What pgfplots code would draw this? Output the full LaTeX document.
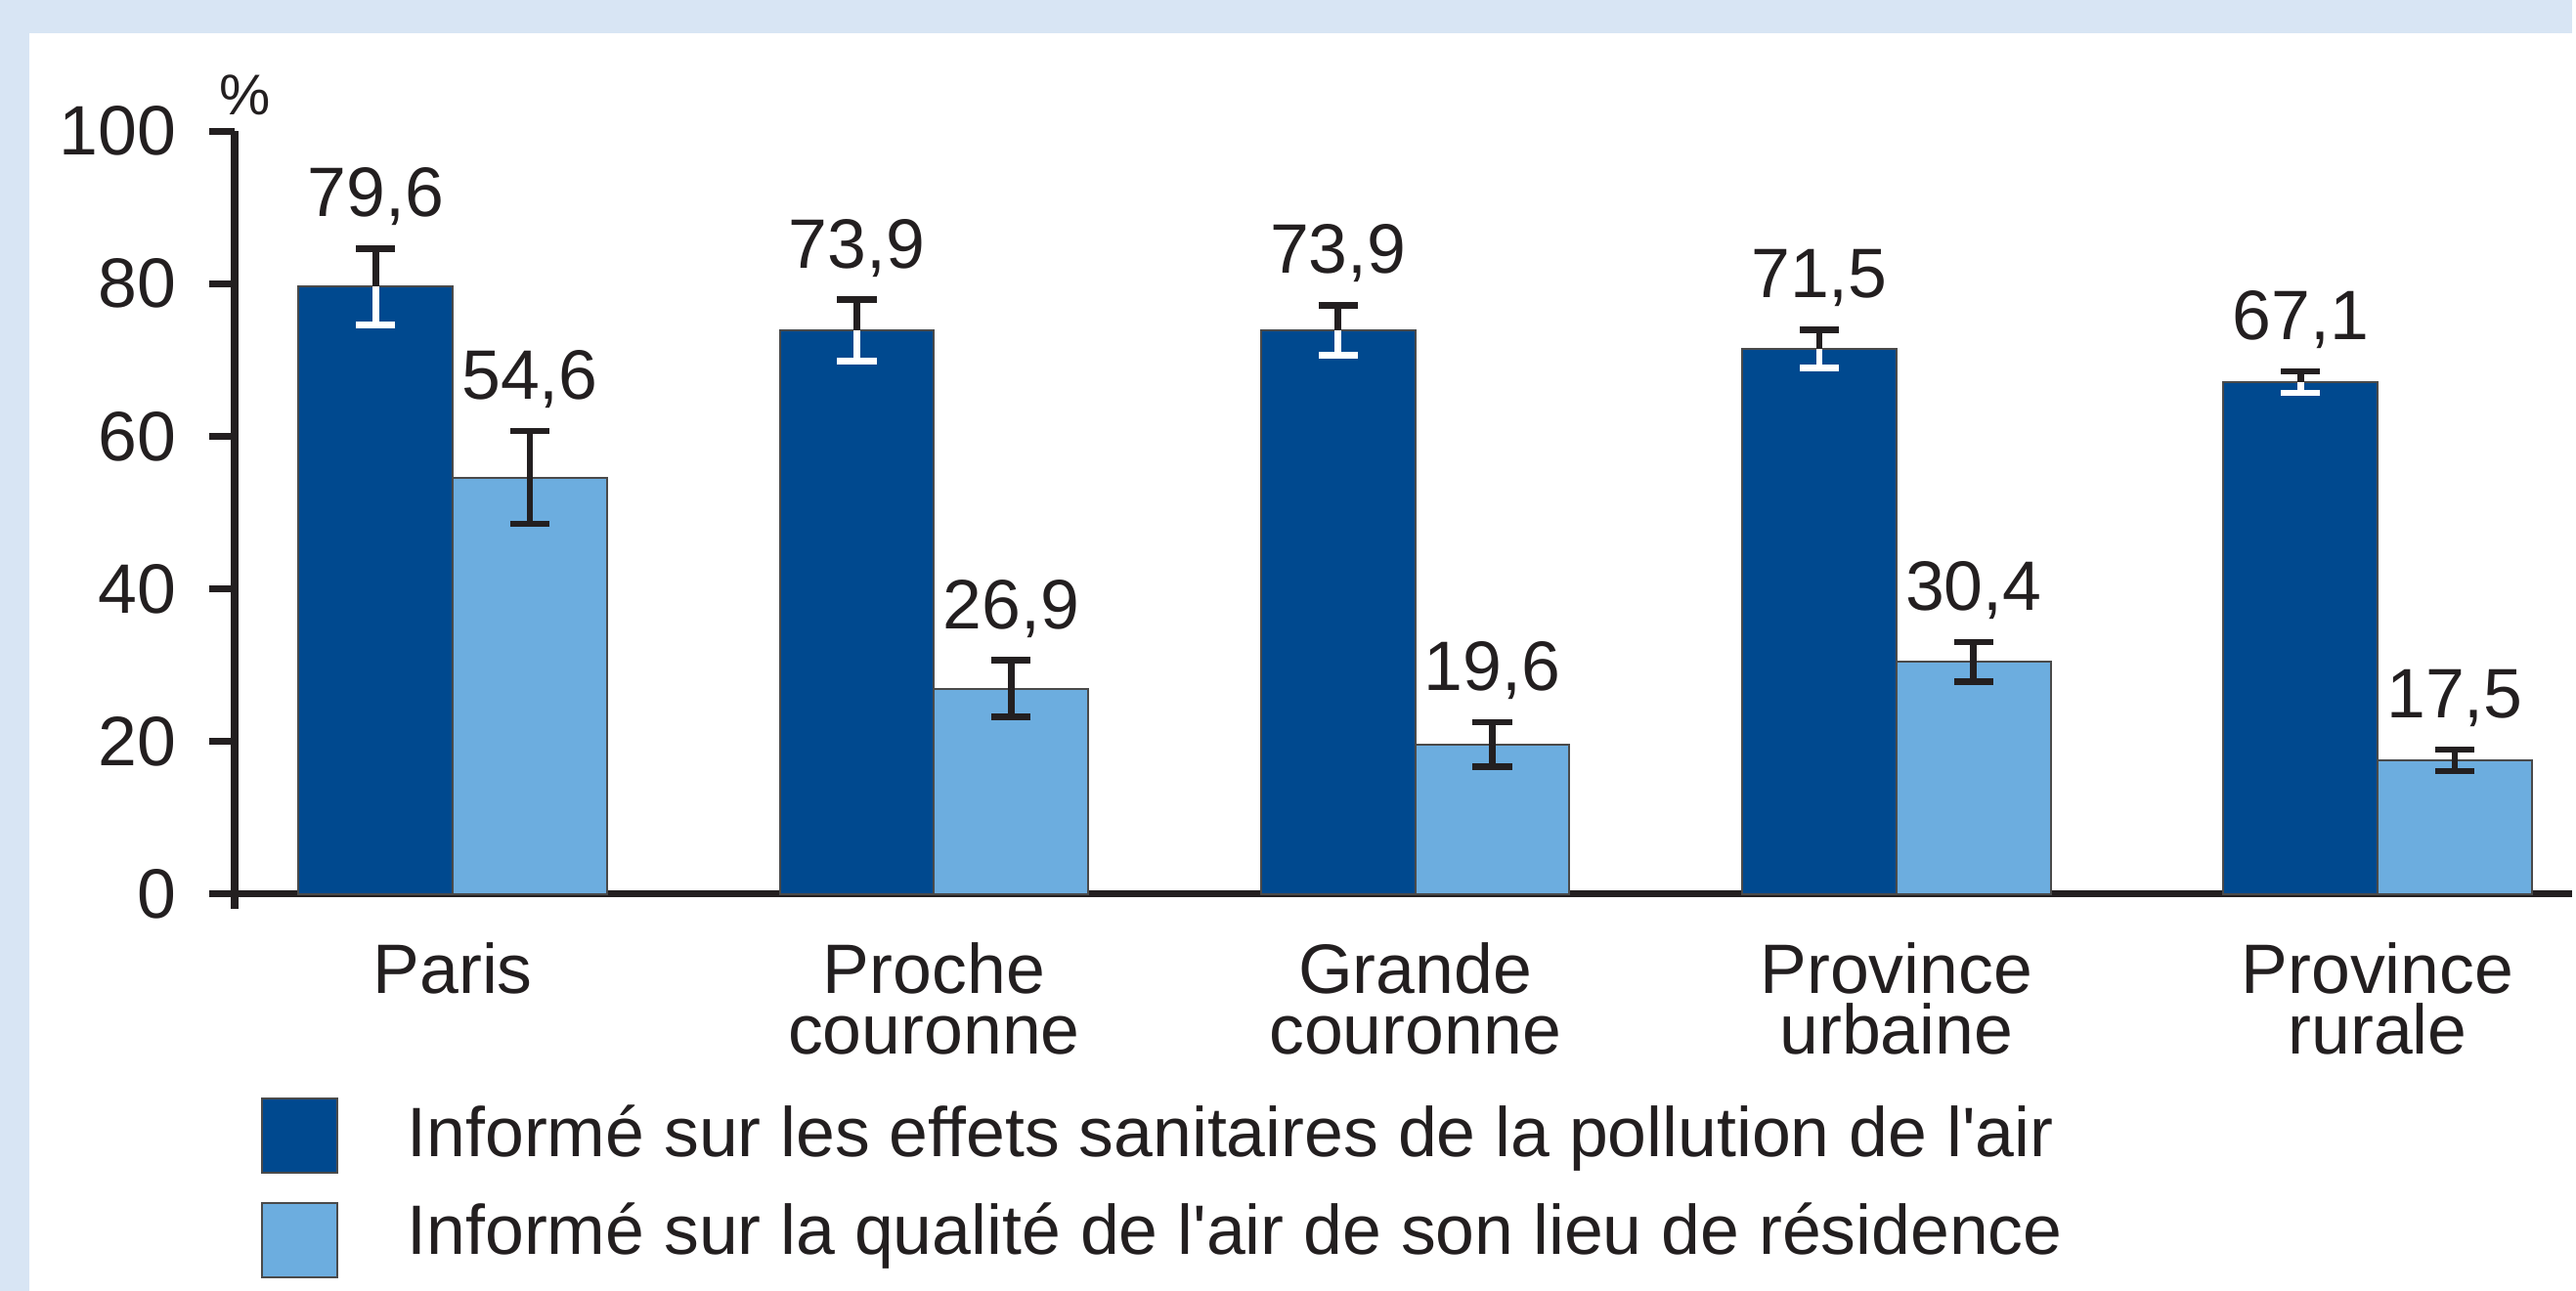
\documentclass[border=0pt]{standalone}
\usepackage{pgfplots}
\usepackage{pgfplotstable}
\pgfplotsset{compat=1.18}
\usepackage{fontspec}
\setmainfont{Liberation Sans}
\definecolor{bgblue}{HTML}{D8E5F4}
\definecolor{darkbar}{HTML}{00498F}
\definecolor{lightbar}{HTML}{6CADDF}
\definecolor{txt}{HTML}{231F20}
\definecolor{edge}{HTML}{4A4A4A}
\newcommand\sq{\XeTeXglyph\XeTeXcharglyph"0027\relax}
\newcommand\lbl{\fontsize{12.8}{11.1}\selectfont}
\newcommand\fnt{\fontsize{12.8}{14}\selectfont}

\pgfplotstableread{
x        y     e
-0.1602  79.6  5.0
0.8398   73.9  4.0
1.8398   73.9  3.3
2.8398   71.5  2.5
3.8398   67.1  1.4
}\darkdata
\pgfplotstableread{
x        y     e
0.1602   54.6  6.1
1.1602   26.9  3.7
2.1602   19.6  2.9
3.1602   30.4  2.6
4.1602   17.5  1.4
}\lightdata
\pgfplotstableread{
x        t     lab
-0.1602  84.6  79,6
0.8398   77.9  73,9
1.8398   77.2  73,9
2.8398   74.0  71,5
3.8398   68.5  67,1
0.1602   60.7  54,6
1.1602   30.6  26,9
2.1602   22.5  19,6
3.1602   33.0  30,4
4.1602   18.9  17,5
}\labeldata

\begin{document}
\begin{tikzpicture}
\fill[bgblue] (0,0) rectangle (470.4pt,236.1pt);
\fill[white] (5.4pt,0) rectangle (470.4pt,230.1pt);
\begin{axis}[
  at={(42.9pt,72.6pt)}, anchor=south west,
  scale only axis, width=427.5pt, height=139.5pt,
  xmin=-0.4535, xmax=4.405, ymin=0, ymax=100,
  axis x line*=bottom, axis y line*=left,
  axis line style={line width=1.3pt, draw=txt},
  clip=false,
  ytick={0,20,40,60,80,100},
  xtick={0,1,2,3,4},
  xticklabels={Paris, Proche\\couronne, Grande\\couronne, Province\\urbaine, Province\\rurale},
  tick align=outside,
  major tick length=4.7pt,
  ytick style={line width=1.3pt, draw=txt},
  xtick style={draw=none},
  /pgf/number format/assume math mode=true,
  yticklabel style={font=\fnt, text=txt, anchor=east, inner sep=0pt, xshift=-5.8pt},
  xticklabel style={font=\lbl, text=txt, align=center, anchor=north, inner sep=0pt, yshift=-4.1pt},
]
\addplot[ybar, bar width=0.3205, bar shift=0pt, fill=darkbar, draw=edge, line width=0.35pt,
  error bars/.cd, y dir=minus, y explicit,
  error bar style={draw=white, line width=1.2pt},
  error mark options={rotate=90, draw=white, line width=1.2pt, mark size=3.6pt}]
  table[x=x, y=y, y error=e] {\darkdata};
\addplot[draw=none, forget plot,
  error bars/.cd, y dir=plus, y explicit,
  error bar style={draw=txt, line width=1.2pt},
  error mark options={rotate=90, draw=txt, line width=1.2pt, mark size=3.6pt}]
  table[x=x, y=y, y error=e] {\darkdata};
\addplot[ybar, bar width=0.3205, bar shift=0pt, fill=lightbar, draw=edge, line width=0.35pt,
  error bars/.cd, y dir=both, y explicit,
  error bar style={draw=txt, line width=1.2pt},
  error mark options={rotate=90, draw=txt, line width=1.2pt, mark size=3.6pt}]
  table[x=x, y=y, y error=e] {\lightdata};
\addplot[draw=none, nodes near coords, point meta=explicit symbolic,
  nodes near coords style={anchor=base, yshift=5.8pt, inner sep=0pt, font=\fnt, text=txt}]
  table[x=x, y=t, meta=lab] {\labeldata};
\draw[line width=1.3pt, draw=txt] (axis cs:-0.4535,0) -- ++(0pt,-2.8pt);
\node[font=\fontsize{10.5}{12}\selectfont, text=txt, inner sep=0pt] at (rel axis cs:0,1) [xshift=1.95pt, yshift=6.6pt] {\%};
\end{axis}
% legend
\draw[fill=darkbar, draw=edge, line width=0.35pt] (47.97pt,21.57pt) rectangle (61.59pt,35.25pt);
\draw[fill=lightbar, draw=edge, line width=0.35pt] (47.97pt,2.4pt) rectangle (61.59pt,16.05pt);
\node[anchor=base west, inner sep=0pt, font=\fnt, text=txt] at (74.28pt,24.6pt) {Informé sur les effets sanitaires de la pollution de l\sq air};
\node[anchor=base west, inner sep=0pt, font=\fnt, text=txt] at (74.28pt,6.69pt) {Informé sur la qualité de l\sq air de son lieu de résidence};
\end{tikzpicture}
\end{document}
